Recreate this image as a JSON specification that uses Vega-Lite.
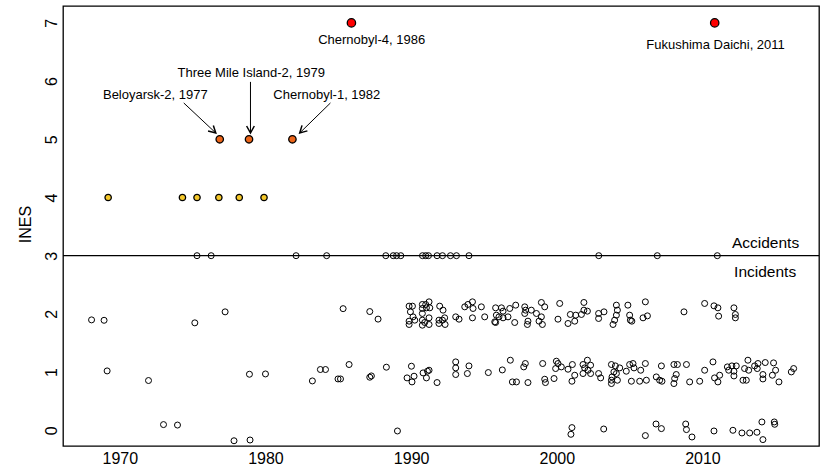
{
  "$schema": "https://vega.github.io/schema/vega-lite/v6.json",
  "autosize": {"type": "none"},
  "padding": {"left": 63, "top": 6, "right": 3, "bottom": 21},
  "width": 756,
  "height": 440,
  "background": "white",
  "config": {
    "font": "Liberation Sans",
    "view": {"stroke": "black", "strokeWidth": 1.3},
    "axis": {"grid": false, "domain": false, "tickColor": "black", "tickOpacity": 0, "labelColor": "black", "titleColor": "black", "labelFont": "Liberation Sans", "titleFont": "Liberation Sans"}
  },
  "datasets": {
    "inc": [
      {"year":1975.3,"ines":3},{"year":1976.27,"ines":3},{"year":1982.1,"ines":3},{"year":1984.2,"ines":3},{"year":1988.26,"ines":3},{"year":1988.77,"ines":3},{"year":1989.0,"ines":3},{"year":1989.29,"ines":3},{"year":1990.78,"ines":3},{"year":1991.0,"ines":3},{"year":1991.19,"ines":3},{"year":1991.78,"ines":3},{"year":1992.15,"ines":3},{"year":1992.7,"ines":3},{"year":1993.11,"ines":3},{"year":1993.97,"ines":3},{"year":2002.88,"ines":3},{"year":2006.9,"ines":3},{"year":2011.02,"ines":3},
      {"year":1973.0,"ines":0.098},{"year":1973.96,"ines":0.09},{"year":1977.84,"ines":-0.18},{"year":1978.94,"ines":-0.167},{"year":1989.06,"ines":-0.012},{"year":2001.04,"ines":0.046},{"year":2000.97,"ines":-0.069},{"year":2003.22,"ines":0.022},{"year":2006.08,"ines":-0.091},{"year":2006.81,"ines":0.108},{"year":2007.18,"ines":0.029},{"year":2008.85,"ines":0.108},{"year":2008.9,"ines":0.012},{"year":2009.28,"ines":-0.115},{"year":2010.79,"ines":-0.012},{"year":2012.09,"ines":0.0},{"year":2012.71,"ines":-0.046},{"year":2013.24,"ines":-0.046},{"year":2013.74,"ines":-0.034},{"year":2014.08,"ines":0.143},{"year":2014.15,"ines":-0.16},{"year":2014.93,"ines":0.143},{"year":2014.96,"ines":0.103},
      {"year":1969.13,"ines":1.02},{"year":1971.97,"ines":0.855},{"year":1978.9,"ines":0.963},{"year":1980.0,"ines":0.968},{"year":1983.22,"ines":0.848},{"year":1983.77,"ines":1.044},{"year":1984.12,"ines":1.044},{"year":1984.98,"ines":0.882},{"year":1985.15,"ines":0.882},{"year":1985.74,"ines":1.13},{"year":1987.16,"ines":0.912},{"year":1987.27,"ines":0.934},{"year":1988.3,"ines":1.084},{"year":1990.02,"ines":1.101},{"year":1989.72,"ines":0.9},{"year":1990.2,"ines":0.929},{"year":1990.06,"ines":0.831},{"year":1990.82,"ines":0.986},{"year":1991.12,"ines":1.015},{"year":1991.23,"ines":1.032},{"year":1991.05,"ines":0.9},{"year":1991.78,"ines":0.82},{"year":1993.06,"ines":1.175},{"year":1993.06,"ines":1.072},{"year":1993.06,"ines":0.958},{"year":1993.97,"ines":1.106},{"year":1993.86,"ines":0.975},{"year":1995.3,"ines":0.992},{"year":1996.26,"ines":1.037},{"year":1996.81,"ines":1.204},{"year":1996.95,"ines":0.831},{"year":1997.23,"ines":0.831},{"year":1997.84,"ines":1.147},{"year":1997.73,"ines":1.089},{"year":1998.02,"ines":0.82},{"year":1999.03,"ines":1.147},{"year":1999.17,"ines":0.877},{"year":1999.22,"ines":0.82},{"year":1999.81,"ines":0.889},{"year":1999.97,"ines":1.187},{"year":2000.08,"ines":1.147},{"year":1999.92,"ines":1.061},{"year":2000.31,"ines":1.089},{"year":2000.77,"ines":1.049},{"year":2001.07,"ines":1.13},{"year":2001.23,"ines":0.946},{"year":2001.04,"ines":0.843},{"year":2001.8,"ines":1.13},{"year":2002.1,"ines":1.204},{"year":2001.91,"ines":1.072},{"year":2002.14,"ines":1.032},{"year":2002.32,"ines":1.118},{"year":2001.8,"ines":0.975},{"year":2002.32,"ines":0.975},{"year":2002.87,"ines":0.975},{"year":2003.01,"ines":0.9},{"year":2003.75,"ines":1.13},{"year":2004.02,"ines":1.106},{"year":2003.92,"ines":1.003},{"year":2004.09,"ines":0.975},{"year":2003.79,"ines":0.917},{"year":2003.75,"ines":0.86},{"year":2003.75,"ines":0.803},{"year":2004.16,"ines":0.86},{"year":2004.32,"ines":1.072},{"year":2004.77,"ines":1.015},{"year":2005.0,"ines":1.13},{"year":2005.23,"ines":1.147},{"year":2005.3,"ines":1.072},{"year":2005.12,"ines":0.843},{"year":2005.69,"ines":0.843},{"year":2005.76,"ines":1.032},{"year":2006.08,"ines":1.147},{"year":2006.15,"ines":0.86},{"year":2006.83,"ines":0.917},{"year":2007.18,"ines":1.106},{"year":2007.06,"ines":0.86},{"year":2007.22,"ines":0.843},{"year":2008.04,"ines":1.13},{"year":2008.28,"ines":1.13},{"year":2008.2,"ines":0.958},{"year":2008.09,"ines":0.889},{"year":2008.04,"ines":0.803},{"year":2008.9,"ines":1.13},{"year":2009.12,"ines":0.831},{"year":2009.81,"ines":0.843},{"year":2010.15,"ines":1.032},{"year":2010.72,"ines":1.175},{"year":2010.83,"ines":0.9},{"year":2011.06,"ines":0.831},{"year":2011.18,"ines":0.946},{"year":2011.71,"ines":1.089},{"year":2011.8,"ines":1.032},{"year":2012.02,"ines":1.106},{"year":2012.16,"ines":1.015},{"year":2012.32,"ines":1.106},{"year":2012.16,"ines":0.934},{"year":2012.78,"ines":0.86},{"year":2013.01,"ines":0.86},{"year":2013.12,"ines":1.204},{"year":2012.89,"ines":1.061},{"year":2013.17,"ines":1.032},{"year":2013.58,"ines":1.106},{"year":2013.81,"ines":1.147},{"year":2013.76,"ines":1.061},{"year":2014.15,"ines":0.958},{"year":2014.15,"ines":0.882},{"year":2014.31,"ines":1.164},{"year":2014.88,"ines":1.158},{"year":2015.02,"ines":1.032},{"year":2014.8,"ines":0.946},{"year":2015.25,"ines":0.831},{"year":2016.1,"ines":1.003},{"year":2016.26,"ines":1.061},
      {"year":1968.06,"ines":1.897},{"year":1968.92,"ines":1.89},{"year":1975.15,"ines":1.846},{"year":1977.23,"ines":2.035},{"year":1985.33,"ines":2.09},{"year":1987.16,"ines":2.04},{"year":1987.73,"ines":1.91},{"year":1989.86,"ines":2.133},{"year":1990.09,"ines":2.133},{"year":1989.95,"ines":2.035},{"year":1990.13,"ines":1.949},{"year":1989.86,"ines":1.875},{"year":1989.86,"ines":1.818},{"year":1990.25,"ines":1.892},{"year":1990.77,"ines":2.162},{"year":1991.0,"ines":2.162},{"year":1991.23,"ines":2.207},{"year":1990.77,"ines":2.093},{"year":1991.05,"ines":2.104},{"year":1991.28,"ines":2.104},{"year":1990.77,"ines":2.007},{"year":1991.23,"ines":1.932},{"year":1990.77,"ines":1.892},{"year":1990.93,"ines":1.852},{"year":1990.77,"ines":1.806},{"year":1991.23,"ines":1.818},{"year":1991.96,"ines":2.133},{"year":1992.19,"ines":2.064},{"year":1991.91,"ines":1.892},{"year":1992.15,"ines":1.892},{"year":1991.91,"ines":1.835},{"year":1992.33,"ines":1.818},{"year":1992.3,"ines":1.932},{"year":1993.06,"ines":1.949},{"year":1993.29,"ines":1.909},{"year":1993.68,"ines":2.121},{"year":1993.9,"ines":2.162},{"year":1994.21,"ines":2.207},{"year":1994.25,"ines":2.093},{"year":1994.21,"ines":1.932},{"year":1994.82,"ines":2.121},{"year":1995.05,"ines":1.949},{"year":1995.8,"ines":2.104},{"year":1996.2,"ines":2.104},{"year":1995.85,"ines":1.978},{"year":1996.03,"ines":1.949},{"year":1995.74,"ines":1.863},{"year":1995.8,"ines":1.852},{"year":1996.31,"ines":1.932},{"year":1996.31,"ines":2.047},{"year":1996.77,"ines":2.093},{"year":1997.18,"ines":2.15},{"year":1996.65,"ines":1.949},{"year":1997.11,"ines":1.852},{"year":1997.8,"ines":2.121},{"year":1997.86,"ines":2.064},{"year":1997.8,"ines":2.007},{"year":1998.25,"ines":2.064},{"year":1998.02,"ines":1.875},{"year":1997.98,"ines":1.818},{"year":1998.6,"ines":2.007},{"year":1998.94,"ines":2.196},{"year":1999.17,"ines":2.121},{"year":1998.94,"ines":1.949},{"year":1998.78,"ines":1.875},{"year":1999.01,"ines":1.818},{"year":2000.2,"ines":2.179},{"year":2000.08,"ines":1.909},{"year":2000.77,"ines":1.835},{"year":2000.93,"ines":1.99},{"year":2001.3,"ines":1.978},{"year":2001.23,"ines":1.875},{"year":2001.86,"ines":2.196},{"year":2001.86,"ines":2.064},{"year":2002.1,"ines":2.047},{"year":2001.69,"ines":1.99},{"year":2002.87,"ines":2.007},{"year":2003.24,"ines":2.035},{"year":2002.87,"ines":1.921},{"year":2004.09,"ines":2.15},{"year":2004.16,"ines":2.064},{"year":2004.09,"ines":1.978},{"year":2003.97,"ines":1.892},{"year":2003.86,"ines":1.818},{"year":2004.88,"ines":2.15},{"year":2005.0,"ines":1.978},{"year":2005.05,"ines":1.892},{"year":2005.15,"ines":1.875},{"year":2006.08,"ines":2.207},{"year":2006.22,"ines":1.966},{"year":2005.92,"ines":1.932},{"year":2008.73,"ines":2.035},{"year":2010.15,"ines":2.179},{"year":2010.79,"ines":2.138},{"year":2011.06,"ines":2.104},{"year":2011.11,"ines":1.961},{"year":2012.16,"ines":2.104},{"year":2012.26,"ines":1.99},{"year":2012.26,"ines":1.932}
    ],
    "acc": [
      {"year":1969.2,"ines":4,"level":"4"},{"year":1974.3,"ines":4,"level":"4"},{"year":1975.3,"ines":4,"level":"4"},{"year":1976.8,"ines":4,"level":"4"},{"year":1978.2,"ines":4,"level":"4"},{"year":1979.9,"ines":4,"level":"4"},
      {"year":1976.86,"ines":5,"level":"5"},{"year":1978.87,"ines":5,"level":"5"},{"year":1981.85,"ines":5,"level":"5"},
      {"year":1985.9,"ines":7,"level":"7"},{"year":2010.84,"ines":7,"level":"7"}
    ],
    "notes": [
      {"label":"Chernobyl-4, 1986","year":1987.29,"ines":6.63},
      {"label":"Fukushima Daichi, 2011","year":2010.9,"ines":6.548},
      {"label":"Beloyarsk-2, 1977","year":1972.44,"ines":5.688},
      {"label":"Three Mile Island-2, 1979","year":1979.02,"ines":6.066},
      {"label":"Chernobyl-1, 1982","year":1984.21,"ines":5.688}
    ],
    "arrows": [
      {"name":"Beloyarsk","year":1974.39,"ines":5.624,"year2":1976.59,"ines2":5.108},
      {"name":"TMI","year":1978.97,"ines":5.986,"year2":1978.97,"ines2":5.108},
      {"name":"Chernobyl1","year":1984.46,"ines":5.624,"year2":1982.35,"ines2":5.108}
    ],
    "zones": [
      {"label":"Accidents","year":2014.33,"ines":3.125},
      {"label":"Incidents","year":2014.3,"ines":2.637}
    ],
    "xticks": [{"year":1970},{"year":1980},{"year":1990},{"year":2000},{"year":2010}],
    "yticks": [{"ines":0},{"ines":1},{"ines":2},{"ines":3},{"ines":4},{"ines":5},{"ines":6},{"ines":7}]
  },
  "encoding": {
    "x": {"field": "year", "type": "quantitative", "scale": {"domain": [1966.1, 2018.0], "nice": false, "zero": false},
      "axis": {"values": [1970, 1980, 1990, 2000, 2010], "format": "d", "title": null, "labelFontSize": 16, "tickSize": -12, "labelPadding": 16, "tickWidth": 1.5}},
    "y": {"field": "ines", "type": "quantitative", "scale": {"domain": [-0.27, 7.29], "nice": false, "zero": false},
      "axis": {"values": [0, 1, 2, 3, 4, 5, 6, 7], "title": "INES", "labelFontSize": 16, "labelAngle": -90, "labelAlign": "center", "labelBaseline": "alphabetic", "tickSize": -13, "labelPadding": 20, "tickWidth": 1.5,
        "titleFontSize": 16, "titleFontWeight": "normal", "titleAngle": -90, "titleX": -33, "titleY": 218, "titleAlign": "center", "titleBaseline": "alphabetic"}}
  },
  "layer": [
    {"data": {"name": "xticks"}, "mark": {"type": "tick", "orient": "vertical", "size": 24, "thickness": 1.3, "color": "black", "opacity": 1, "clip": true},
      "encoding": {"y": {"datum": -0.27, "type": "quantitative"}}},
    {"data": {"name": "yticks"}, "mark": {"type": "tick", "orient": "horizontal", "size": 26, "thickness": 1.3, "color": "black", "opacity": 1, "clip": true},
      "encoding": {"x": {"datum": 1966.1, "type": "quantitative"}}},
    {"data": {"values": [{"v": 3}]}, "mark": {"type": "rule", "color": "black", "strokeWidth": 1.2}, "encoding": {"x": null, "y": {"field": "v", "type": "quantitative"}}},
    {"data": {"name": "inc"}, "mark": {"type": "point", "shape": "circle", "filled": false, "stroke": "black", "strokeWidth": 1, "size": 36, "opacity": 1}},
    {"data": {"name": "acc"}, "mark": {"type": "point", "shape": "circle", "filled": true, "stroke": "black", "strokeWidth": 1.3, "opacity": 1, "fillOpacity": 1},
      "encoding": {
        "fill": {"field": "level", "type": "nominal", "scale": {"domain": ["4", "5", "7"], "range": ["#F5C82A", "#EC6519", "#FF0000"]}, "legend": null},
        "size": {"field": "level", "type": "ordinal", "scale": {"domain": ["4", "5", "7"], "range": [40, 70, 135]}, "legend": null}
      }},
    {"data": {"name": "arrows"}, "mark": {"type": "rule", "color": "black", "strokeWidth": 1},
      "encoding": {"x2": {"field": "year2"}, "y2": {"field": "ines2"}}},
    {"data": {"name": "arrows"}, "transform": [{"filter": "datum.name == 'Beloyarsk'"}],
      "mark": {"type": "point", "shape": "M-0.55,-1L0,0L0.55,-1", "filled": false, "stroke": "black", "strokeWidth": 1.5, "size": 196, "angle": 313.2, "opacity": 1},
      "encoding": {"x": {"field": "year2", "type": "quantitative"}, "y": {"field": "ines2", "type": "quantitative"}}},
    {"data": {"name": "arrows"}, "transform": [{"filter": "datum.name == 'TMI'"}],
      "mark": {"type": "point", "shape": "M-0.55,-1L0,0L0.55,-1", "filled": false, "stroke": "black", "strokeWidth": 1.5, "size": 196, "angle": 0, "opacity": 1},
      "encoding": {"x": {"field": "year2", "type": "quantitative"}, "y": {"field": "ines2", "type": "quantitative"}}},
    {"data": {"name": "arrows"}, "transform": [{"filter": "datum.name == 'Chernobyl1'"}],
      "mark": {"type": "point", "shape": "M-0.55,-1L0,0L0.55,-1", "filled": false, "stroke": "black", "strokeWidth": 1.5, "size": 196, "angle": 45.6, "opacity": 1},
      "encoding": {"x": {"field": "year2", "type": "quantitative"}, "y": {"field": "ines2", "type": "quantitative"}}},
    {"data": {"name": "notes"}, "mark": {"type": "text", "fontSize": 13, "align": "center", "baseline": "alphabetic", "color": "black", "font": "Liberation Sans"},
      "encoding": {"text": {"field": "label"}}},
    {"data": {"name": "zones"}, "mark": {"type": "text", "fontSize": 15.5, "align": "center", "baseline": "alphabetic", "color": "black", "font": "Liberation Sans"},
      "encoding": {"text": {"field": "label"}}}
  ]
}
